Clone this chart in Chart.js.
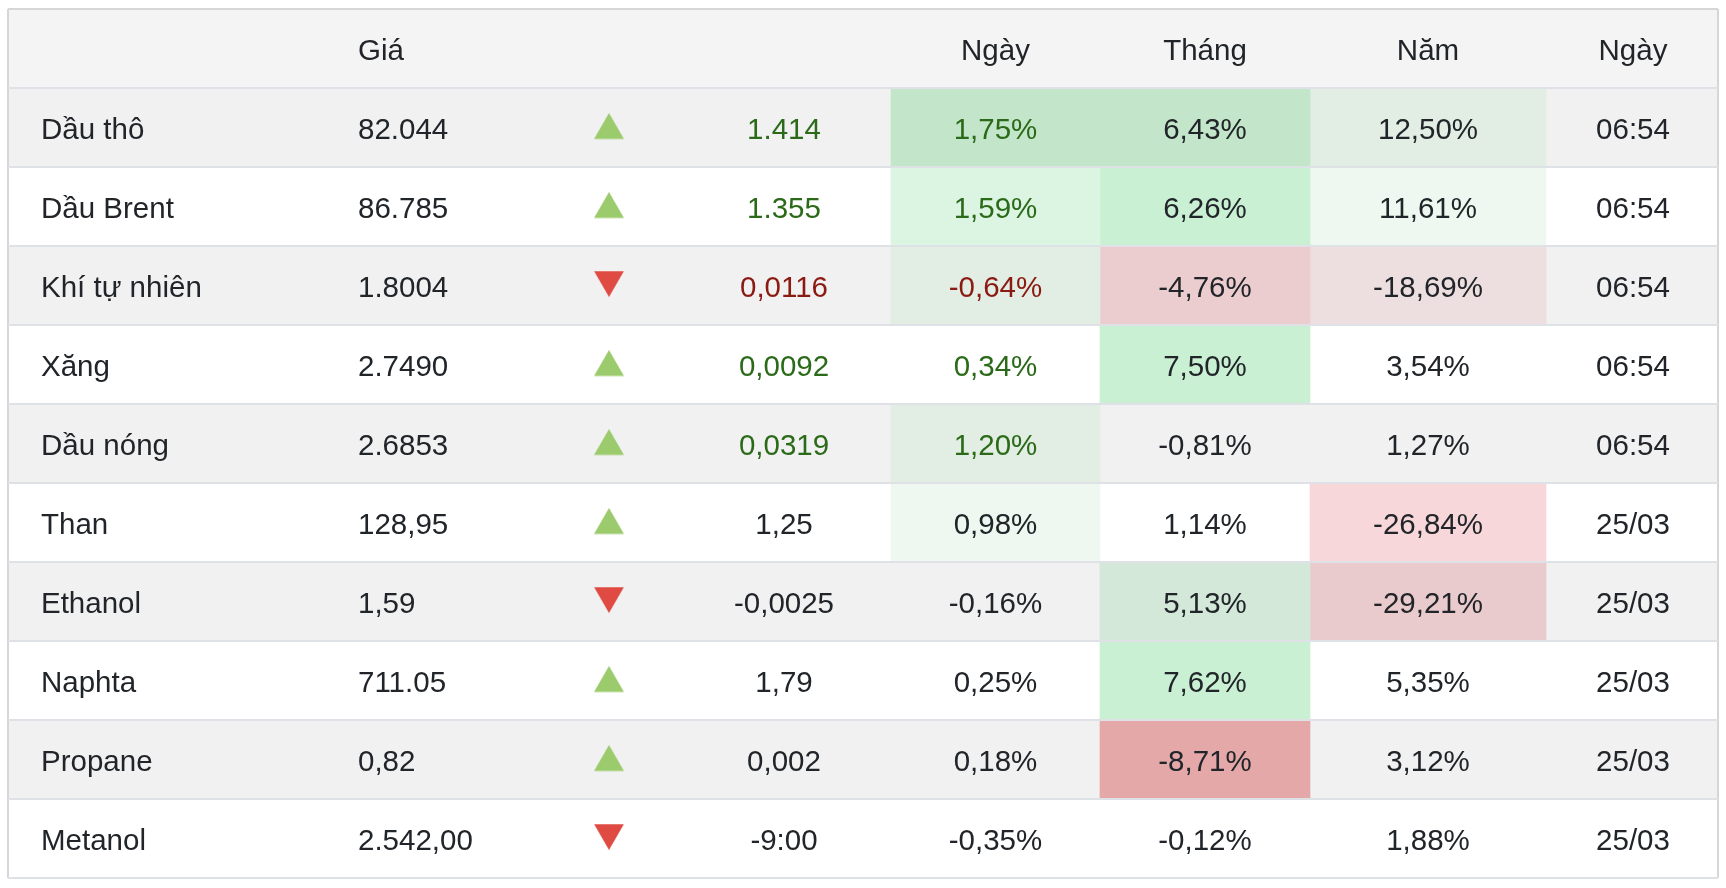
<!DOCTYPE html>
<html>
<head>
<meta charset="utf-8">
<script src="https://cdn.jsdelivr.net/npm/chart.js@4.4.1/dist/chart.umd.min.js"></script>
<style>
  html, body { margin: 0; padding: 0; background: #ffffff; }
  canvas { display: block; }
</style>
</head>
<body>
<canvas id="c" width="1726" height="888"></canvas>
<script>
// ---------- data ----------
const headers  = ['', 'Giá', '', '', 'Ngày', 'Tháng', 'Năm', 'Ngày'];
const names    = ['Dầu thô', 'Dầu Brent', 'Khí tự nhiên', 'Xăng', 'Dầu nóng', 'Than', 'Ethanol', 'Naphta', 'Propane', 'Metanol'];
const prices   = ['82.044', '86.785', '1.8004', '2.7490', '2.6853', '128,95', '1,59', '711.05', '0,82', '2.542,00'];
const arrows   = ['up', 'up', 'down', 'up', 'up', 'up', 'down', 'up', 'up', 'down'];
const changes  = ['1.414', '1.355', '0,0116', '0,0092', '0,0319', '1,25', '-0,0025', '1,79', '0,002', '-9:00'];
const dayPct   = ['1,75%', '1,59%', '-0,64%', '0,34%', '1,20%', '0,98%', '-0,16%', '0,25%', '0,18%', '-0,35%'];
const monthPct = ['6,43%', '6,26%', '-4,76%', '7,50%', '-0,81%', '1,14%', '5,13%', '7,62%', '-8,71%', '-0,12%'];
const yearPct  = ['12,50%', '11,61%', '-18,69%', '3,54%', '1,27%', '-26,84%', '-29,21%', '5,35%', '3,12%', '1,88%'];
const times    = ['06:54', '06:54', '06:54', '06:54', '06:54', '25/03', '25/03', '25/03', '25/03', '25/03'];
const tone     = ['up', 'up', 'down', 'up', 'up', '', '', '', '', ''];

// ---------- styles (heat fills per cell) ----------
const dayFill   = ['#c3e5c9', '#dcf4e2', '#e2ede4', null, '#e2ede4', '#eef8f0', null, null, null, null];
const monthFill = ['#c3e5c9', '#caf0d4', '#ebcdcf', '#caf0d4', null, null, '#d3e8d9', '#caf0d4', '#e4a8a9', null];
const yearFill  = ['#e2ede4', '#eef8f0', '#eddfe0', null, null, '#f7d7d9', '#eacbcd', null, null, null];

const INK = '#212529', UP_INK = '#2b6a18', DOWN_INK = '#8a1a12';
const UP_FILL = '#9ccb6d', DOWN_FILL = '#df4b43';

// ---------- layout (table units = px across chart area) ----------
const W = 1710;
const COL = { name: 33, price: 350, arrow: 601, change: 776,
              day: [883, 1092], month: [1092, 1302], year: [1302, 1538], time: 1625 };
const mid = r => (r[0] + r[1]) / 2;

const rowLabels = ['', ...names];

// arrow glyphs used as point styles
function arrowImg(dir, color) {
  const c = document.createElement('canvas');
  c.width = 30; c.height = 30;
  const g = c.getContext('2d');
  g.fillStyle = color;
  g.beginPath();
  if (dir === 'up') { g.moveTo(15, 0.5); g.lineTo(30, 26.5); g.lineTo(0, 26.5); }
  else { g.moveTo(0, 0.5); g.lineTo(30, 0.5); g.lineTo(15, 26.5); }
  g.closePath(); g.fill();
  return c;
}
const upImg = arrowImg('up', UP_FILL), downImg = arrowImg('down', DOWN_FILL);

const cellSet = (fill, range) => ({
  type: 'bar', grouped: false, barPercentage: 1, categoryPercentage: 1, borderWidth: 0,
  data: [null, ...fill.map(f => f ? range : null)],
  backgroundColor: ['rgba(0,0,0,0)', ...fill.map(f => f || 'rgba(0,0,0,0)')]
});

const textPlugin = {
  id: 'tableText',
  afterDraw(chart) {
    const { ctx, scales: { x, y } } = chart;
    ctx.save();
    ctx.font = '29.5px "Liberation Sans", Arial, sans-serif';
    ctx.textBaseline = 'alphabetic';
    const put = (t, pos, row, align, color) => {
      if (!t) return;
      ctx.fillStyle = color; ctx.textAlign = align;
      ctx.fillText(t, x.getPixelForValue(pos), y.getPixelForValue(row) + 11);
    };
    // header
    put(headers[1], COL.price, 0, 'left', INK);
    put(headers[4], mid(COL.day), 0, 'center', INK);
    put(headers[5], mid(COL.month), 0, 'center', INK);
    put(headers[6], mid(COL.year), 0, 'center', INK);
    put(headers[7], COL.time, 0, 'center', INK);
    // rows
    names.forEach((n, i) => {
      const r = i + 1;
      const tc = tone[i] === 'up' ? UP_INK : tone[i] === 'down' ? DOWN_INK : INK;
      put(n, COL.name, r, 'left', INK);
      put(prices[i], COL.price, r, 'left', INK);
      put(changes[i], COL.change, r, 'center', tc);
      put(dayPct[i], mid(COL.day), r, 'center', tc);
      put(monthPct[i], mid(COL.month), r, 'center', INK);
      put(yearPct[i], mid(COL.year), r, 'center', INK);
      put(times[i], COL.time, r, 'center', INK);
    });
    ctx.restore();
  }
};

new Chart(document.getElementById('c'), {
  type: 'bar',
  data: {
    labels: rowLabels,
    datasets: [
      {
        type: 'scatter', indexAxis: 'x',
        data: names.map(n => ({ x: COL.arrow, y: n })),
        pointStyle: arrows.map(a => a === 'up' ? upImg : downImg),
        pointRadius: 15, order: -1, clip: false
      },
      {
        type: 'bar', grouped: false, barPercentage: 1, categoryPercentage: 1, borderWidth: 0,
        data: rowLabels.map(() => [0, W]),
        backgroundColor: rowLabels.map((_, i) => i === 0 ? '#f4f4f4' : (i % 2 ? '#f1f1f1' : '#ffffff')),
        order: 3
      },
      Object.assign(cellSet(dayFill, COL.day), { order: 2 }),
      Object.assign(cellSet(monthFill, COL.month), { order: 2 }),
      Object.assign(cellSet(yearFill, COL.year), { order: 2 })
    ]
  },
  options: {
    indexAxis: 'y',
    responsive: false,
    animation: false,
    events: [],
    layout: { autoPadding: false, padding: { left: 8, right: 8, top: 9, bottom: 10 } },
    plugins: { legend: { display: false }, tooltip: { enabled: false } },
    scales: {
      x: {
        type: 'linear', min: 0, max: W, position: 'bottom',
        afterBuildTicks: s => { s.ticks = [{ value: 0 }, { value: W }]; },
        grid: { z: 1, color: '#d6d6d6', lineWidth: 2, drawTicks: false },
        border: { display: false },
        ticks: { display: false }
      },
      y: {
        type: 'category', offset: true,
        grid: { z: 1, offset: true, drawTicks: false, lineWidth: 2,
                color: c => c.index === 0 ? '#d6d6d6' : '#dee2e6' },
        border: { display: false },
        ticks: { display: false }
      }
    }
  },
  plugins: [textPlugin]
});
</script>
</body>
</html>
